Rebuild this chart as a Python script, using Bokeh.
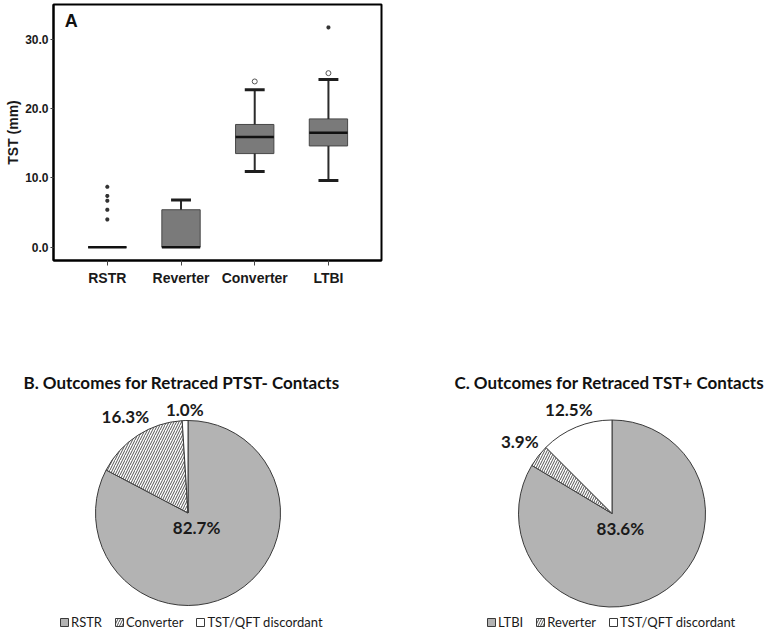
import numpy as np
from bokeh.plotting import figure
from bokeh.models import (Range1d, FixedTicker, ColumnDataSource, Label, Legend,
                          LegendItem, PrintfTickFormatter)
from bokeh.layouts import column, row
from bokeh.core.properties import value
from bokeh.embed import file_html
from bokeh.resources import INLINE

# ---------------- data: panel A (box plot of TST induration) ----------------
groups = ["RSTR", "Reverter", "Converter", "LTBI"]
lower_whisker = [0.0, 0.0, 10.9, 9.6]
q1 = [0.0, 0.0, 13.5, 14.6]
median = [0.0, 0.0, 15.9, 16.5]
q3 = [0.0, 5.4, 17.7, 18.5]
upper_whisker = [0.0, 6.8, 22.7, 24.2]
outlier_group = ["Converter", "LTBI"]
outlier_value = [23.9, 25.1]
extreme_group = ["RSTR", "RSTR", "RSTR", "RSTR", "RSTR", "LTBI"]
extreme_value = [8.7, 7.4, 6.7, 5.4, 4.0, 31.7]
y_ticks = [0, 10, 20, 30]

# ---------------- data: panels B and C (pies) ----------------
pie_b_title = "B. Outcomes for Retraced PTST- Contacts"
pie_b_labels = ["RSTR", "Converter", "TST/QFT discordant"]
pie_b_values = [82.7, 16.3, 1.0]
pie_c_title = "C. Outcomes for Retraced TST+ Contacts"
pie_c_labels = ["LTBI", "Reverter", "TST/QFT discordant"]
pie_c_values = [83.6, 3.9, 12.5]
slice_fill = ["#b3b3b3", "white", "white"]
slice_hatch = [" ", "/", " "]

BOLD_SANS = "Liberation Sans"

# ---------------- panel A ----------------
xpos = np.arange(1, len(groups) + 1)
bp = figure(frame_width=328, frame_height=256, x_range=Range1d(0.27, 4.72),
            y_range=Range1d(-1.92, 35.0), output_backend="svg",
            toolbar_location=None, min_border_left=53, min_border_right=9,
            min_border_top=4, min_border_bottom=30)
bp.grid.visible = False
bp.outline_line_color = "black"
bp.outline_line_width = 2
bp.background_fill_color = "white"

box_w = 0.52
cap_w = 0.27
lw = np.array(lower_whisker); uw = np.array(upper_whisker)
qa = np.array(q1); qb = np.array(q3)

bp.vbar(x=xpos, bottom=qa, top=qb, width=box_w, fill_color="#7a7a7a",
        line_color="#474747", line_width=1)
# whiskers
up = uw > qb
bp.segment(x0=xpos[up], y0=qb[up], x1=xpos[up], y1=uw[up], line_color="#2b2b2b", line_width=2)
bp.segment(x0=xpos[up] - cap_w / 2, y0=uw[up], x1=xpos[up] + cap_w / 2, y1=uw[up],
           line_color="#1e1e1e", line_width=3)
dn = lw < qa
bp.segment(x0=xpos[dn], y0=qa[dn], x1=xpos[dn], y1=lw[dn], line_color="#2b2b2b", line_width=2)
bp.segment(x0=xpos[dn] - cap_w / 2, y0=lw[dn], x1=xpos[dn] + cap_w / 2, y1=lw[dn],
           line_color="#1e1e1e", line_width=3)
# medians
bp.segment(x0=xpos - box_w / 2, y0=median, x1=xpos + box_w / 2, y1=median,
           line_color="#111111", line_width=2.5)
# outliers and extremes
gidx = {g: i + 1 for i, g in enumerate(groups)}
bp.scatter(x=[gidx[g] for g in outlier_group], y=outlier_value, marker="circle",
           size=5, fill_color="white", line_color="#555555", line_width=1)
bp.scatter(x=[gidx[g] for g in extreme_group], y=extreme_value, marker="asterisk",
           size=4, line_color="#333333", line_width=1.5)

bp.xaxis.ticker = FixedTicker(ticks=list(xpos))
bp.xaxis.major_label_overrides = {int(i): g for i, g in zip(xpos, groups)}
bp.yaxis.ticker = FixedTicker(ticks=y_ticks)
bp.yaxis.formatter = PrintfTickFormatter(format="%.1f")
for ax in (bp.xaxis[0], bp.yaxis[0]):
    ax.axis_line_color = "black"
    ax.axis_line_width = 2
    ax.major_tick_in = 0
    ax.major_tick_line_color = "#444444"
    ax.minor_tick_line_color = None
    ax.major_label_text_font = BOLD_SANS
    ax.major_label_text_font_style = "bold"
    ax.major_label_text_color = "#1a1a1a"
bp.xaxis.major_tick_out = 5
bp.xaxis.major_label_standoff = 4
bp.xaxis.major_label_text_font_size = "14px"
bp.yaxis.major_tick_out = 3
bp.yaxis.major_label_standoff = 2
bp.yaxis.major_label_text_font_size = "12px"
bp.yaxis.axis_label = "TST (mm)"
bp.yaxis.axis_label_text_font = BOLD_SANS
bp.yaxis.axis_label_text_font_style = "bold"
bp.yaxis.axis_label_text_font_size = "14px"
bp.yaxis.axis_label_text_color = "#1a1a1a"
bp.yaxis.axis_label_standoff = 1
bp.add_layout(Label(x=0.51, y=32.6, text="A", text_font=BOLD_SANS,
                    text_font_style="bold", text_font_size="18px",
                    text_align="center", text_baseline="middle", text_color="#111111"))

# ---------------- panels B and C ----------------
PIE_H = 343


def make_pie(title, labels, vals, W, cx, cy, r, title_x, legend_x):
    p = figure(width=W, height=PIE_H, x_range=Range1d(0, W), y_range=Range1d(0, PIE_H),
               output_backend="svg", toolbar_location=None, min_border=0,
               x_axis_type=None, y_axis_type=None)
    p.grid.visible = False
    p.outline_line_color = None
    v = np.array(vals, dtype=float)
    frac = v / v.sum()
    cum = np.concatenate([[0.0], np.cumsum(frac)])
    start = np.pi / 2 - 2 * np.pi * cum[:-1]
    end = np.pi / 2 - 2 * np.pi * cum[1:]
    src = ColumnDataSource(dict(start=start, end=end, label=labels, fill=slice_fill,
                                hatch=slice_hatch))
    wr = p.wedge(x=cx, y=cy, radius=r, start_angle="start", end_angle="end",
                 direction="clock", fill_color="fill", hatch_pattern="hatch",
                 hatch_color="#404040", hatch_scale=5, hatch_weight=0.9,
                 line_color="#3a3a3a", line_width=1, source=src)
    # percentage labels
    mid = (start + end) / 2
    tx, ty = [], []
    fs = 17
    for f, m in zip(frac, mid):
        txt = f"{f * 100:.1f}%"
        if f > 0.5:
            d = 0.18 * r
        else:
            hw = 0.29 * fs * len(txt); hh = 0.38 * fs
            d = r + hw * abs(np.cos(m)) + hh * abs(np.sin(m)) + 4
        tx.append(cx + d * np.cos(m)); ty.append(cy + d * np.sin(m))
    pct = [f"{f * 100:.1f}%" for f in frac]
    p.text(x=tx, y=ty, text=pct, text_font=value("Lato"), text_font_style="bold",
           text_font_size=f"{fs}px", text_align="center", text_baseline="middle",
           text_color="#1a1a1a")
    p.add_layout(Label(x=title_x, y=251, text=title, text_font="Lato",
                       text_font_style="bold", text_font_size="17px",
                       text_align="center", text_baseline="middle", text_color="#111111"))
    items = [LegendItem(label=lab, renderers=[wr], index=i) for i, lab in enumerate(labels)]
    leg = Legend(items=items, orientation="horizontal", location=(legend_x, 3),
                 glyph_width=10, glyph_height=10, label_standoff=2, spacing=12,
                 padding=0, margin=0, border_line_color=None,
                 background_fill_alpha=0, label_text_font="Lato",
                 label_text_font_size="13px", label_text_color="#1a1a1a",
                 label_height=12)
    p.add_layout(leg)
    return p


pb = make_pie(pie_b_title, pie_b_labels, pie_b_values, 390, 187.5, 120.5, 92.5, 181, 59)
pc = make_pie(pie_c_title, pie_c_labels, pie_c_values, 383, 221.5, 120, 93.5, 219, 96)

layout = column(bp, row(pb, pc))
open("out.html", "w").write(file_html(layout, INLINE))
